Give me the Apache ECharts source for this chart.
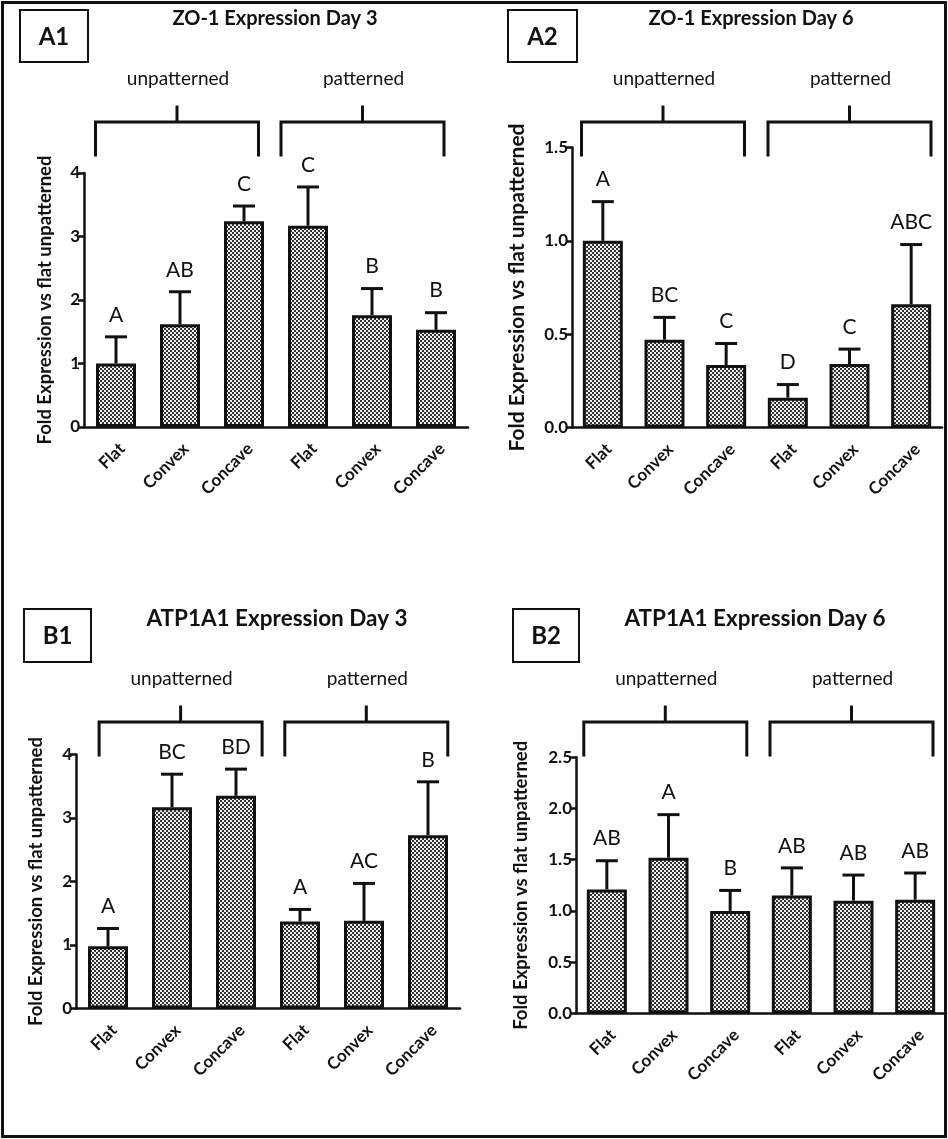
<!DOCTYPE html>
<html>
<head>
<meta charset="utf-8">
<script src="https://cdn.jsdelivr.net/npm/echarts@6/dist/echarts.min.js"></script>
<style>
  html, body { margin: 0; padding: 0; background: #fff; }
  #main { width: 948px; height: 1139px; }
</style>
</head>
<body>
<div id="main"></div>
<script>
// categories shared by every panel
var categories = ['Flat', 'Convex', 'Concave', 'Flat', 'Convex', 'Concave'];
var groupNames = ['unpatterned', 'patterned'];
var groupRanges = [[0, 2], [3, 5]];

// A1 - ZO-1 day 3
var zo1Day3Mean = [1.00, 1.62, 3.24, 3.17, 1.76, 1.53];
var zo1Day3Err = [1.42, 2.13, 3.48, 3.78, 2.18, 1.80];
var zo1Day3Letters = ['A', 'AB', 'C', 'C', 'B', 'B'];
var zo1Day3Ticks = ['0', '1', '2', '3', '4'];

// A2 - ZO-1 day 6
var zo1Day6Mean = [1.00, 0.47, 0.335, 0.16, 0.34, 0.66];
var zo1Day6Err = [1.21, 0.59, 0.45, 0.23, 0.42, 0.98];
var zo1Day6Letters = ['A', 'BC', 'C', 'D', 'C', 'ABC'];
var zo1Day6Ticks = ['0.0', '0.5', '1.0', '1.5'];

// B1 - ATP1A1 day 3
var atpDay3Mean = [0.98, 3.17, 3.35, 1.37, 1.38, 2.73];
var atpDay3Err = [1.26, 3.69, 3.77, 1.56, 1.97, 3.57];
var atpDay3Letters = ['A', 'BC', 'BD', 'A', 'AC', 'B'];
var atpDay3Ticks = ['0', '1', '2', '3', '4'];

// B2 - ATP1A1 day 6
var atpDay6Mean = [1.21, 1.52, 1.00, 1.15, 1.10, 1.11];
var atpDay6Err = [1.49, 1.94, 1.20, 1.42, 1.35, 1.37];
var atpDay6Letters = ['AB', 'A', 'B', 'AB', 'AB', 'AB'];
var atpDay6Ticks = ['0.0', '0.5', '1.0', '1.5', '2.0', '2.5'];

var yName = 'Fold Expression vs flat unpatterned';
var FONT = 'Lato, "Noto Sans", sans-serif';
var INK = '#111';

// layout of the four panels (pixels)
var panels = [
    {tag: 'A1', title: 'ZO-1 Expression Day 3', mean: zo1Day3Mean, err: zo1Day3Err, letters: zo1Day3Letters, ticks: zo1Day3Ticks,
     grid: {left: 84, top: 173, width: 384, height: 254}, top: 0, titleX: 275, titleSize: 20, box: [20, 10, 68, 52],
     nameGap: 29, nameSize: 18.5, shift: [-3, -9.5]},
    {tag: 'A2', title: 'ZO-1 Expression Day 6', mean: zo1Day6Mean, err: zo1Day6Err, letters: zo1Day6Letters, ticks: zo1Day6Ticks,
     grid: {left: 572, top: 147.5, width: 370, height: 280}, top: 0, titleX: 751, titleSize: 20, box: [508, 10, 69, 52],
     nameGap: 44, nameSize: 21, shift: [-1.5, 0]},
    {tag: 'B1', title: 'ATP1A1 Expression Day 3', mean: atpDay3Mean, err: atpDay3Err, letters: atpDay3Letters, ticks: atpDay3Ticks,
     grid: {left: 76, top: 754.5, width: 384, height: 254}, top: 600, titleX: 277, titleSize: 22.5, box: [24, 609, 67, 53],
     nameGap: 30, nameSize: 18.5, shift: [8.6, 2.3]},
    {tag: 'B2', title: 'ATP1A1 Expression Day 6', mean: atpDay6Mean, err: atpDay6Err, letters: atpDay6Letters, ticks: atpDay6Ticks,
     grid: {left: 576, top: 757.3, width: 370, height: 256}, top: 600, titleX: 755, titleSize: 22.5, box: [513, 609, 66, 53],
     nameGap: 45, nameSize: 18.5, shift: [-3.2, -2]}
];

function makeDots() {
    var c = document.createElement('canvas');
    c.width = 4;
    c.height = 4;
    var g = c.getContext('2d');
    g.fillStyle = '#efefef';
    g.fillRect(0, 0, 4, 4);
    g.fillStyle = '#333';
    g.fillRect(0, 0, 2, 2);
    g.fillRect(2, 2, 2, 2);
    return c;
}
var dots = makeDots();

var chart = echarts.init(document.getElementById('main'), null, {renderer: 'canvas'});

var grids = [], xAxes = [], yAxes = [], series = [];

panels.forEach(function (p, k) {
    var decimals = p.ticks[1].indexOf('.') >= 0 ? 1 : 0;
    grids.push(p.grid);
    xAxes.push({
        type: 'category',
        gridIndex: k,
        data: categories,
        axisLine: {lineStyle: {color: INK, width: 2.5}},
        axisTick: {alignWithLabel: true, length: 8, lineStyle: {color: INK, width: 2.5}},
        axisLabel: {rotate: 45, margin: 13, verticalAlign: 'top', color: INK, fontFamily: FONT, fontWeight: 'bold', fontSize: 17, interval: 0}
    });
    yAxes.push({
        type: 'value',
        gridIndex: k,
        min: parseFloat(p.ticks[0]),
        max: parseFloat(p.ticks[p.ticks.length - 1]),
        interval: parseFloat(p.ticks[1]) - parseFloat(p.ticks[0]),
        name: yName,
        nameLocation: 'middle',
        nameGap: p.nameGap,
        nameTextStyle: {color: INK, fontFamily: FONT, fontWeight: 'bold', fontSize: p.nameSize},
        axisLine: {show: true, lineStyle: {color: INK, width: 2.5}},
        axisTick: {show: true, length: 6, lineStyle: {color: INK, width: 2.5}},
        axisLabel: {margin: 4, color: INK, fontFamily: FONT, fontWeight: 'bold', fontSize: 17,
            formatter: function (v) { return v.toFixed(decimals); }},
        splitLine: {show: false}
    });
    series.push({
        type: 'bar',
        xAxisIndex: k,
        yAxisIndex: k,
        data: p.mean,
        barWidth: 40,
        itemStyle: {color: {image: dots, repeat: 'repeat'}, borderColor: INK, borderWidth: 3},
        silent: true,
        z: 2
    });
    var errData = p.mean.map(function (m, i) { return [i, m, p.err[i]]; });
    series.push({
        type: 'custom',
        xAxisIndex: k,
        yAxisIndex: k,
        data: errData,
        encode: {x: 0, y: 2},
        z: 3,
        silent: true,
        renderItem: function (params, api) {
            var i = api.value(0);
            var base = api.coord([i, api.value(1)]);
            var tip = api.coord([i, api.value(2)]);
            var s = {stroke: INK, lineWidth: 3};
            return {
                type: 'group',
                children: [
                    {type: 'line', shape: {x1: tip[0], y1: base[1], x2: tip[0], y2: tip[1]}, style: s},
                    {type: 'line', shape: {x1: tip[0] - 11, y1: tip[1], x2: tip[0] + 11, y2: tip[1]}, style: s},
                    {type: 'text', style: {text: p.letters[params.dataIndex], x: tip[0], y: tip[1] - 22,
                        align: 'center', verticalAlign: 'middle', fill: INK, fontFamily: FONT, fontSize: 21}}
                ]
            };
        }
    });
});

chart.setOption({
    animation: false,
    backgroundColor: '#fff',
    grid: grids,
    xAxis: xAxes,
    yAxis: yAxes,
    series: series
});

// annotations: frame, tag boxes, titles, group brackets
var graphics = [{
    type: 'rect', shape: {x: 2.5, y: 2.5, width: 943, height: 1134},
    style: {fill: 'none', stroke: INK, lineWidth: 3}, z: 10
}];

panels.forEach(function (p, k) {
    graphics.push({
        type: 'rect', shape: {x: p.box[0], y: p.box[1], width: p.box[2], height: p.box[3]},
        style: {fill: '#fff', stroke: INK, lineWidth: 2}, z: 10
    });
    graphics.push({
        type: 'text', x: p.box[0] + p.box[2] / 2, y: p.box[1] + p.box[3] / 2 + 1,
        style: {text: p.tag, align: 'center', verticalAlign: 'middle', fill: INK, fontFamily: FONT, fontWeight: 'bold', fontSize: 24}, z: 10
    });
    graphics.push({
        type: 'text', x: p.titleX, y: p.top + 19,
        style: {text: p.title, align: 'center', verticalAlign: 'middle', fill: INK, fontFamily: FONT, fontWeight: 'bold', fontSize: p.titleSize}, z: 10
    });
    groupRanges.forEach(function (r, g) {
        var a = chart.convertToPixel({gridIndex: k}, [r[0], 0])[0];
        var b = chart.convertToPixel({gridIndex: k}, [r[1], 0])[0];
        var cx = (a + b) / 2 + p.shift[g];
        var half = 81.5;
        var yBar = p.top + 122;
        graphics.push({
            type: 'polyline',
            shape: {points: [[cx - half, p.top + 156.5], [cx - half, yBar], [cx + half, yBar], [cx + half, p.top + 156.5]]},
            style: {fill: 'none', stroke: INK, lineWidth: 3}, z: 10
        });
        graphics.push({
            type: 'line', shape: {x1: cx, y1: p.top + 105.5, x2: cx, y2: yBar},
            style: {stroke: INK, lineWidth: 3}, z: 10
        });
        graphics.push({
            type: 'text', x: cx + 1, y: p.top + 79,
            style: {text: groupNames[g], align: 'center', verticalAlign: 'middle', fill: INK, fontFamily: FONT, fontSize: 19}, z: 10
        });
    });
});

chart.setOption({graphic: graphics});
</script>
</body>
</html>
